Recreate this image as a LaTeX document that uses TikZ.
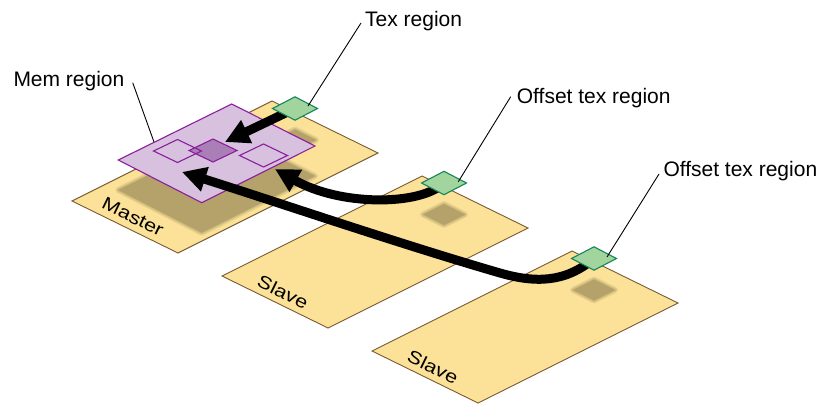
\documentclass[tikz,border=0pt]{standalone}
\usepackage{fontspec}
\setmainfont{Liberation Sans}
\usetikzlibrary{arrows.meta,calc}
\definecolor{platefill}{RGB}{252,226,152}
\definecolor{plateline}{RGB}{122,90,50}
\definecolor{shadowc}{RGB}{180,162,106}
\definecolor{memfill}{RGB}{215,193,222}
\definecolor{memline}{RGB}{140,30,155}
\definecolor{memdark}{RGB}{170,126,182}
\definecolor{texfill}{RGB}{162,212,158}
\definecolor{texline}{RGB}{20,135,90}
\tikzset{
  plate/.style={fill=platefill, draw=plateline, line width=0.9pt, line join=miter},
  shadowpoly/.style={fill=shadowc, line join=round,
    postaction={draw=shadowc, draw opacity=0.25, line width=6pt},
    postaction={draw=shadowc, draw opacity=0.3, line width=3.5pt},
    postaction={draw=shadowc, draw opacity=0.35, line width=1.5pt}},
  memregion/.style={fill=memfill, draw=memline, line width=1.1pt},
  hollowbox/.style={draw=memline, line width=1.1pt},
  darkbox/.style={fill=memdark, draw=memline, line width=1.1pt},
  texbox/.style={fill=texfill, draw=texline, line width=1.1pt},
  bigarrow/.style={line width=9pt, -{Triangle[length=24pt,width=24pt]}},
  leader/.style={draw=black, line width=0.9pt},
  lbl/.style={font=\fontsize{21}{25}\selectfont, inner sep=0pt, anchor=base west},
  platelbl/.style={font=\fontsize{20}{24}\selectfont, inner sep=0pt, rotate=-26.1}
}
\begin{document}
\begin{tikzpicture}[x=1pt,y=-1pt]
\useasboundingbox (0,0) rectangle (822,404);

% plate corners
\coordinate (Lm) at (72,201);
\coordinate (Ls1) at (222,276);
\coordinate (Ls2) at (372,351);
% tex region centres
\coordinate (g0) at (295,108.5);
\coordinate (g1) at (444,183);
\coordinate (g2) at (594,258.5);

% plates
\foreach \L in {Lm,Ls1,Ls2}{
  \path[plate] (\L) -- ++(200,-100) -- ++(106,52) -- ++(-200,100) -- cycle;
}

% shadows
\path[shadowpoly] (118.3,190) -- (231.7,134) -- (315,176) -- (201.7,232.7) -- cycle;
\foreach \g in {g0,g1,g2}{
  \path[shadowpoly] ($(\g)+(-21,31.5)$) -- ++(21,-10.5) -- ++(21,10.5) -- ++(-21,10.5) -- cycle;
}

% plate labels
\node[platelbl] (mlab) at (133,217) {\scalebox{1.08}[0.9]{Master}};
\node[platelbl] (s1lab) at (283,292) {\scalebox{1.08}[0.9]{Slave}};
\node[platelbl] (s2lab) at (433,367) {\scalebox{1.08}[0.9]{Slave}};

% mem region
\path[memregion] (118.3,160) -- (231.7,104) -- (315,146) -- (201.7,202.7) -- cycle;
\path[darkbox] (189,150.5) -- ++(24,-11.5) -- ++(24,11.5) -- ++(-24,11.5) -- cycle;
\path[hollowbox] (153.5,151) -- ++(24,-11.5) -- ++(24,11.5) -- ++(-24,11.5) -- cycle;
\path[hollowbox] (239.5,155.5) -- ++(24,-11.5) -- ++(24,11.5) -- ++(-24,11.5) -- cycle;

% arrow ends
\coordinate (a1e) at (225,142);
\coordinate (a2e) at (275,169);
\coordinate (a3e) at (182,172);
\coordinate (a3m) at (500,273);

% arrows
\draw[bigarrow] (g0) -- (a1e);
\draw[bigarrow] (g1) .. controls (420,206) and (340,206) .. (a2e);
\draw[bigarrow] (g2) .. controls (565,283) and (535,283) .. (a3m)
  .. controls (400,244) and (280,203) .. (a3e);

% tex regions
\foreach \g in {g0,g1,g2}{
  \path[texbox] ($(\g)+(-22.5,0)$) -- ++(22.5,-11.7) -- ++(22.5,11.7) -- ++(-22.5,11.7) -- cycle;
}

% labels
\node[lbl] (memlbl) at (13.3,86) {Mem region};
\node[lbl] (texlbl) at (365,26.7) {Tex region};
\node[lbl] (off1lbl) at (516.7,103.3) {Offset tex region};
\node[lbl] (off2lbl) at (663.3,176) {Offset tex region};

% leader lines
\coordinate (memA) at (132.7,82.7);
\coordinate (memB) at (154,142);
\coordinate (texA) at (361,23);
\coordinate (texB) at (308,106);
\coordinate (off1A) at (510.7,96.7);
\coordinate (off1B) at (458.3,181.7);
\coordinate (off2A) at (659,174);
\coordinate (off2B) at (607,257);
\draw[leader] (memA) -- (memB);
\draw[leader] (texA) -- (texB);
\draw[leader] (off1A) -- (off1B);
\draw[leader] (off2A) -- (off2B);
\end{tikzpicture}
\end{document}
